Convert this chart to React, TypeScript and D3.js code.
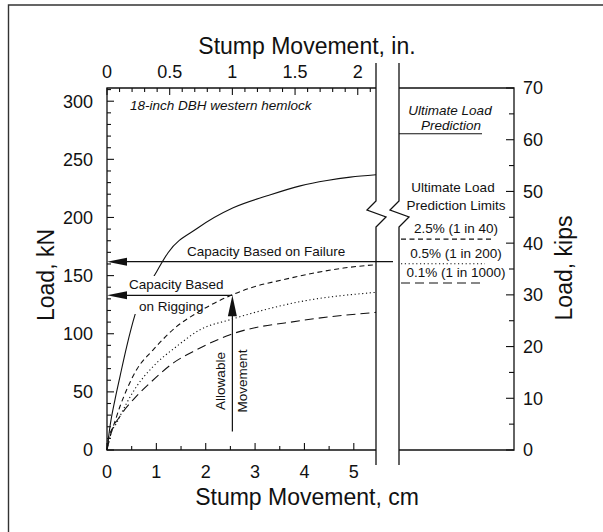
import React from "react";
import * as d3 from "d3";

// ticks
const cmTicks = [0, 1, 2, 3, 4, 5];
const inTicks = [0, 0.5, 1, 1.5, 2];
const kNTicks = [0, 50, 100, 150, 200, 250, 300];
const kipTicks = [0, 10, 20, 30, 40, 50, 60, 70];

// load-movement curves [cm, kN]
const ultimateCurve: [number, number][] = [
  [0, 0], [0.061, 20.4], [0.162, 43.4], [0.264, 63.4], [0.4, 89.2], [0.568, 116.4],
  [1.008, 153.6], [1.237, 169.7], [1.846, 191.1], [2.556, 208.3], [3.245, 218.6],
  [3.915, 227.2], [4.456, 231.8], [4.929, 234.7], [5.45, 236.7],
];
const limit25: [number, number][] = [
  [0, 0], [0.026, 9], [0.128, 20.4], [0.264, 37.6], [0.4, 52], [0.602, 69.2], [0.939, 86.3],
  [1.414, 106.3], [1.82, 117.9], [2.46, 132.1], [2.9, 139.3], [3.576, 146.5], [4.254, 152.7],
  [4.793, 156.5], [5.45, 159.4],
];
const limit05: [number, number][] = [
  [0, 0], [0.061, 11.9], [0.197, 23.4], [0.4, 40.5], [0.602, 54.8], [0.939, 72], [1.414, 89.2],
  [1.886, 103.5], [2.495, 112.1], [3.915, 127.6], [5.45, 135.6],
];
const limit01: [number, number][] = [
  [0, 0], [0.095, 16.1], [0.264, 29], [0.533, 43.4], [0.872, 57.7], [1.345, 74.9], [1.82, 86.3],
  [2.495, 99.2], [3.915, 111.2], [5.45, 118.4],
];

// right panel predictions, kN
const ultimatePrediction = 272;
const limitLabels = ["2.5% (1 in 40)", "0.5% (1 in 200)", "0.1% (1 in 1000)"];
const limitValues = [181.4, 160.2, 143.6];
const limitDash = ["5,3.5", "1.2,2.6", "9,5"];

// annotations
const failureCapacity = 162;
const riggingCapacity = 133;
const allowableMovementIn = 1;

const KN_PER_KIP = 4.448;
const FONT = "'Liberation Sans', Arial, Helvetica, sans-serif";
const INK = "#111";

export default function App() {
  const left = 107, breakL = 376, breakR = 399, right = 514;
  const top = 88, bottom = 450;

  const x = d3.scaleLinear().domain([0, (breakL - left) / 49.36]).range([left, breakL]);
  const xIn = (v: number) => x(v * 2.54);
  const y = d3.scaleLinear().domain([0, 70 * KN_PER_KIP]).range([bottom, top]);
  const yKip = (v: number) => y(v * KN_PER_KIP);

  const line = d3.line<[number, number]>().x((d) => x(d[0])).y((d) => y(d[1])).curve(d3.curveMonotoneX);

  const cmMinor = d3.range(0.5, 5.5, 1);
  const inMinor = d3.range(0, 2.15, 0.1).filter((v) => Math.abs(v * 2 - Math.round(v * 2)) > 0.01);
  const kNMinor = d3.range(0, 311, 10).filter((v) => v % 50 !== 0);
  const kipMinor = d3.range(5, 70, 10);

  const allowX = xIn(allowableMovementIn);
  const yFail = y(failureCapacity);
  const yRig = y(riggingCapacity);

  const zig = (bx: number) =>
    `M${bx},63 L${bx},201 L${bx - 9},210 L${bx + 10},217 L${bx},227 L${bx},465`;

  const arrowLeft = (tipX: number, yy: number) =>
    `M${tipX},${yy} L${tipX + 20},${yy - 4} L${tipX + 20},${yy + 4} Z`;

  const txt = { fontFamily: FONT, fill: INK } as const;

  return (
    <svg width={603} height={532} style={{ position: "absolute", left: 0, top: 0, background: "#fff" }}>
      <defs>
        <mask id="textGap">
          <rect x={0} y={0} width={603} height={532} fill="white" />
          <rect x={124} y={276} width={66} height={38} fill="black" />
        </mask>
      </defs>

      {/* outer frame */}
      <path d="M603,5 L8.5,5 L8.5,532" fill="none" stroke="#333" strokeWidth={1.4} />

      {/* plot frames */}
      <g stroke={INK} strokeWidth={1.3} fill="none">
        <path d={`M${breakL},${top} L${left},${top} L${left},${bottom} L${breakL},${bottom}`} />
        <path d={`M${breakR},${top} L${right},${top} L${right},${bottom} L${breakR},${bottom}`} />
        <path d={zig(breakL)} />
        <path d={zig(breakR)} />
      </g>

      {/* ticks */}
      <g stroke={INK} strokeWidth={1.1}>
        {cmTicks.map((t) => <line key={"cb" + t} x1={x(t)} x2={x(t)} y1={bottom} y2={bottom - 7} />)}
        {cmMinor.map((t) => <line key={"cbm" + t} x1={x(t)} x2={x(t)} y1={bottom} y2={bottom - 4} />)}
        {inTicks.map((t) => <line key={"it" + t} x1={xIn(t)} x2={xIn(t)} y1={top} y2={top + 7} />)}
        {inMinor.map((t) => <line key={"itm" + t} x1={xIn(t)} x2={xIn(t)} y1={top} y2={top + 4} />)}
        {kNTicks.map((t) => <line key={"kn" + t} x1={left} x2={left + 7} y1={y(t)} y2={y(t)} />)}
        {kNMinor.map((t) => <line key={"knm" + t} x1={left} x2={left + 4} y1={y(t)} y2={y(t)} />)}
        {kipTicks.map((t) => <line key={"kp" + t} x1={right} x2={right - 8} y1={yKip(t)} y2={yKip(t)} />)}
        {kipMinor.map((t) => <line key={"kpm" + t} x1={right} x2={right - 5} y1={yKip(t)} y2={yKip(t)} />)}
      </g>

      {/* tick labels */}
      <g {...txt} fontSize={18}>
        {cmTicks.map((t) => <text key={"lcb" + t} x={x(t)} y={478} textAnchor="middle">{t}</text>)}
        {inTicks.map((t) => <text key={"lit" + t} x={xIn(t)} y={78} textAnchor="middle">{t}</text>)}
        {kNTicks.map((t) => <text key={"lkn" + t} x={93} y={y(t)} dy="0.36em" textAnchor="end">{t}</text>)}
        {kipTicks.map((t) => <text key={"lkp" + t} x={523} y={yKip(t)} dy="0.36em">{t}</text>)}
      </g>

      {/* axis titles */}
      <g {...txt} fontSize={23}>
        <text x={307} y={54} textAnchor="middle">Stump Movement, in.</text>
        <text x={307} y={505} textAnchor="middle">Stump Movement, cm</text>
        <text transform="translate(54,275) rotate(-90)" textAnchor="middle">Load, kN</text>
        <text transform="translate(572,268) rotate(-90)" textAnchor="middle">Load, kips</text>
      </g>

      {/* curves */}
      <g fill="none" stroke={INK} strokeWidth={1.1}>
        <path d={line(ultimateCurve) || ""} mask="url(#textGap)" />
        <path d={line(limit25) || ""} strokeDasharray={limitDash[0]} />
        <path d={line(limit05) || ""} strokeDasharray={limitDash[1]} />
        <path d={line(limit01) || ""} strokeDasharray={limitDash[2]} />
      </g>

      {/* capacity arrows */}
      <g stroke={INK} strokeWidth={1.2}>
        <line x1={left + 10} x2={393} y1={yFail} y2={yFail} />
        <line x1={left + 10} x2={allowX} y1={yRig} y2={yRig} />
        <line x1={allowX} x2={allowX} y1={y(16)} y2={yRig + 15} />
      </g>
      <g fill={INK}>
        <path d={arrowLeft(left, yFail)} />
        <path d={arrowLeft(left, yRig)} />
        <path d={`M${allowX},${yRig} L${allowX - 4.5},${yRig + 21} L${allowX + 4.5},${yRig + 21} Z`} />
      </g>

      {/* annotations */}
      <g {...txt} fontSize={13.5}>
        <text x={130} y={110} fontStyle="italic">18-inch DBH western hemlock</text>
        <text x={187} y={256}>Capacity Based on Failure</text>
        <text x={129} y={289}>Capacity Based</text>
        <text x={139} y={311}>on Rigging</text>
        <text transform={`translate(${allowX - 7},381) rotate(-90)`} textAnchor="middle">Allowable</text>
        <text transform={`translate(${allowX + 14.5},381) rotate(-90)`} textAnchor="middle">Movement</text>
      </g>

      {/* right panel: predictions */}
      <g {...txt} fontSize={13.5} textAnchor="middle">
        <text x={450} y={115} fontStyle="italic">Ultimate Load</text>
        <text x={451} y={130} fontStyle="italic">Prediction</text>
        <text x={453} y={192}>Ultimate Load</text>
        <text x={456} y={210}>Prediction Limits</text>
        {limitLabels.map((l, i) => (
          <text key={l} x={456} y={y(limitValues[i]) - 6}>{l}</text>
        ))}
      </g>
      <g fill="none" stroke={INK} strokeWidth={1.1}>
        <line x1={breakR} x2={482} y1={y(ultimatePrediction)} y2={y(ultimatePrediction)} />
        {limitValues.map((v, i) => (
          <line key={"lv" + i} x1={401} x2={[492, 485, 483][i]} y1={y(v)} y2={y(v)} strokeDasharray={limitDash[i]} />
        ))}
      </g>
    </svg>
  );
}
